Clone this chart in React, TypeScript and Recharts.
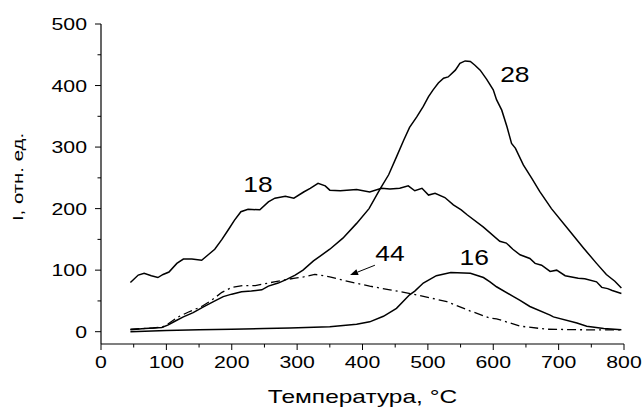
import React from 'react';
import { LineChart, Line, XAxis, YAxis, ReferenceDot, ReferenceLine } from 'recharts';

// Temperature (°C) and intensity readings for each m/z curve
const t18 = [45, 57, 66, 77, 87, 95, 104, 116, 126, 139, 154, 164, 174, 185, 195, 204, 214, 225, 243, 256, 266, 282, 295, 310, 320, 332, 343, 350, 366, 391, 411, 429, 442, 457, 470, 480, 491, 501, 511, 526, 539, 551, 560, 585, 610, 620, 630, 641, 656, 664, 674, 687, 697, 710, 730, 740, 758, 766, 775, 782, 796];
const i18 = [80, 92, 95, 91, 88, 93, 97, 111, 118, 118, 116, 125, 134, 150, 166, 181, 195, 199, 198, 211, 217, 220, 217, 227, 233, 241, 237, 230, 229, 231, 227, 233, 232, 233, 237, 229, 233, 222, 225, 218, 206, 198, 190, 170, 147, 144, 134, 125, 119, 111, 108, 98, 100, 91, 87, 86, 81, 72, 70, 67, 62];

const t28 = [45, 67, 93, 103, 113, 126, 141, 156, 172, 187, 200, 215, 230, 246, 256, 271, 284, 297, 309, 325, 350, 370, 391, 410, 427, 440, 452, 463, 472, 483, 493, 501, 508, 516, 524, 531, 542, 549, 557, 565, 572, 580, 590, 600, 605, 613, 621, 628, 634, 646, 659, 671, 689, 715, 738, 758, 773, 786, 796];
const i28 = [3, 5, 7, 11, 17, 24, 31, 40, 49, 57, 61, 65, 66, 68, 74, 79, 85, 92, 100, 115, 134, 152, 176, 200, 232, 255, 284, 311, 332, 349, 366, 382, 393, 404, 412, 414, 425, 436, 440, 439, 433, 425, 410, 393, 377, 360, 333, 306, 298, 271, 249, 228, 200, 166, 136, 111, 93, 82, 71];

const t16 = [45, 100, 150, 200, 250, 289, 350, 391, 411, 432, 452, 472, 480, 493, 513, 535, 565, 585, 595, 605, 631, 641, 656, 687, 692, 728, 743, 769, 796];
const i16 = [0, 2, 3, 4, 5, 6, 8, 12, 16, 25, 38, 60, 66, 79, 91, 96, 95, 88, 81, 73, 57, 51, 41, 27, 24, 14, 9, 5, 3];

const t44 = [45, 80, 95, 103, 118, 134, 154, 169, 185, 200, 218, 236, 251, 265, 285, 297, 310, 327, 335, 350, 381, 411, 442, 473, 503, 529, 564, 595, 605, 641, 682, 743, 799];
const i44 = [4, 6, 8, 13, 24, 32, 41, 51, 64, 72, 75, 75, 78, 81, 85, 87, 89, 93, 92, 89, 81, 74, 68, 62, 55, 49, 34, 22, 21, 9, 4, 3, 3];

const xMajor = [0, 100, 200, 300, 400, 500, 600, 700, 800];
const xMinor = [50, 150, 250, 350, 450, 550, 650, 750];
const yMajor = [0, 100, 200, 300, 400, 500];
const yMinor = [50, 150, 250, 350, 450];

const curveLabels = ['18', '28', '44', '16'];
const labelT = [240, 633, 442, 571];
const labelI = [240, 418, 128, 121];
const arrowFrom = { x: 419, y: 108 };
const arrowTo = { x: 381, y: 92 };

const xTitle = 'Температура, °C';
const yTitle = 'I, отн. ед.';

const zip = (t: number[], v: number[]) => t.map((x, i) => ({ t: x, v: v[i] }));
const d18 = zip(t18, i18);
const d28 = zip(t28, i28);
const d16 = zip(t16, i16);
const d44 = zip(t44, i44);
const annotations = curveLabels.map((s, i) => ({ s, x: labelT[i], y: labelI[i] }));

const FONT = '"Liberation Sans", Arial, sans-serif';

const XTick = (props: any) => {
  const { x, y, payload } = props;
  const v = payload.value;
  const major = v % 100 === 0;
  return (
    <g>
      <line x1={x} y1={y} x2={x} y2={y + (major ? 6 : 3.5)} stroke="#000" strokeWidth={1} />
      {major && (
        <text transform={`translate(${x},${y + 24}) scale(1.25,1)`} textAnchor="middle" fontSize={17} fontFamily={FONT} fill="#000">
          {v}
        </text>
      )}
    </g>
  );
};

const YTick = (props: any) => {
  const { x, y, payload } = props;
  const v = payload.value;
  const major = v % 100 === 0;
  return (
    <g>
      <line x1={x} y1={y} x2={x - (major ? 6 : 3.5)} y2={y} stroke="#000" strokeWidth={1} />
      {major && (
        <text transform={`translate(${x - 14},${y + 6}) scale(1.25,1)`} textAnchor="end" fontSize={17} fontFamily={FONT} fill="#000">
          {v}
        </text>
      )}
    </g>
  );
};

const XTitle = (props: any) => {
  const vb = props.viewBox;
  return (
    <text transform={`translate(${vb.x + vb.width / 2},${vb.y + 59}) scale(1.4,1)`} textAnchor="middle" fontSize={17.5} fontFamily={FONT} fill="#000">
      {xTitle}
    </text>
  );
};

const YTitle = (props: any) => {
  const vb = props.viewBox;
  return (
    <text transform={`translate(23,${vb.y + vb.height / 2 - 7}) rotate(-90) scale(1.36,1)`} textAnchor="middle" fontSize={15} fontFamily={FONT} fill="#000">
      {yTitle}
    </text>
  );
};

const Arrow = (props: any) => {
  const { x1, y1, x2, y2 } = props;
  const ang = Math.atan2(y2 - y1, x2 - x1);
  const L = 8;
  const W = 3;
  const bx = x2 - L * Math.cos(ang);
  const by = y2 - L * Math.sin(ang);
  const px = -Math.sin(ang) * W;
  const py = Math.cos(ang) * W;
  return (
    <g>
      <line x1={x1} y1={y1} x2={bx} y2={by} stroke="#000" strokeWidth={1} />
      <polygon points={`${x2},${y2} ${bx + px},${by + py} ${bx - px},${by - py}`} fill="#000" />
    </g>
  );
};

export default function App() {
  return (
    <div>
      <style>{`body{margin:0;background:#fff}`}</style>
      <LineChart width={644} height={409} margin={{ top: 24, right: 20, bottom: 25, left: 0 }}>
        <XAxis
          dataKey="t"
          type="number"
          domain={[0, 800]}
          ticks={[...xMajor, ...xMinor].sort((a, b) => a - b)}
          tickSize={0}
          tickMargin={0}
          tickLine={false}
          tick={<XTick />}
          interval={0}
          height={40}
          allowDataOverflow
          axisLine={{ stroke: '#000', strokeWidth: 1.2 }}
          label={{ content: <XTitle /> }}
        />
        <YAxis
          type="number"
          domain={[-20, 500]}
          ticks={[...yMajor, ...yMinor].sort((a, b) => a - b)}
          tickSize={0}
          tickMargin={0}
          tickLine={false}
          tick={<YTick />}
          interval={0}
          width={101}
          allowDataOverflow
          axisLine={{ stroke: '#000', strokeWidth: 1.2 }}
          label={{ content: <YTitle /> }}
        />
        <Line data={d18} dataKey="v" type="linear" stroke="#000" strokeWidth={1.5} dot={false} isAnimationActive={false} />
        <Line data={d28} dataKey="v" type="linear" stroke="#000" strokeWidth={1.5} dot={false} isAnimationActive={false} />
        <Line data={d16} dataKey="v" type="linear" stroke="#000" strokeWidth={1.5} dot={false} isAnimationActive={false} />
        <Line data={d44} dataKey="v" type="linear" stroke="#000" strokeWidth={1.3} strokeDasharray="9 4 2 4" dot={false} isAnimationActive={false} />
        {annotations.map((a) => (
          <ReferenceDot
            key={a.s}
            x={a.x}
            y={a.y}
            r={0}
            ifOverflow="visible"
            shape={(p: any) => (
              <text transform={`translate(${p.cx},${p.cy + 8}) scale(1.2,1)`} textAnchor="middle" fontSize={22} fontFamily={FONT} fill="#000">
                {a.s}
              </text>
            )}
          />
        ))}
        <ReferenceLine segment={[arrowFrom, arrowTo]} ifOverflow="visible" shape={<Arrow />} />
      </LineChart>
    </div>
  );
}
